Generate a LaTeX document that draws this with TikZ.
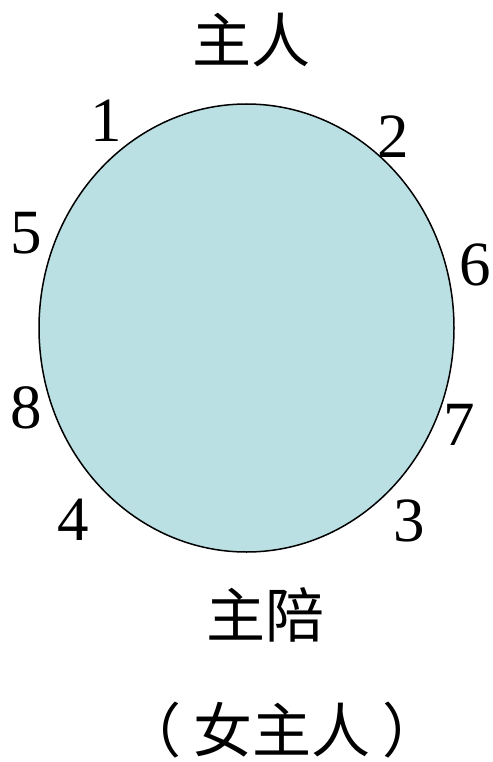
\documentclass[tikz,border=0pt]{standalone}
\usepackage{fontspec}
\newfontfamily\numfont{Liberation Serif}
\newfontfamily\cjk{Noto Sans CJK SC}
\usetikzlibrary{shapes.geometric}
\definecolor{tableblue}{RGB}{187,224,227}
\begin{document}
\begin{tikzpicture}[x=1pt, y=-1pt,
    seatnum/.style={inner sep=0pt, font=\numfont\fontsize{63}{63}\selectfont},
    seatname/.style={inner sep=0pt, font=\cjk\fontsize{59}{59}\selectfont}]
    \useasboundingbox (0,0) rectangle (492,762);
    %   The round table
    \node[draw=black, ellipse, fill=tableblue, line width=1.5pt, inner sep=0pt, minimum width=415pt, minimum height=448pt] (table) at (246.5,328) {};
    %   Seat numbers around the table
    \node[seatnum] (seat1) at (106,121) {1};
    \node[seatnum] (seat2) at (393,137) {2};
    \node[seatnum] (seat5) at (26,233) {5};
    \node[seatnum] (seat6) at (475,265) {6};
    \node[seatnum] (seat8) at (26,408) {8};
    \node[seatnum] (seat7) at (459,425) {7};
    \node[seatnum] (seat4) at (73,520) {4};
    \node[seatnum] (seat3) at (409,521) {3};
    %   Host and co-host
    \node[seatname] (host) at (251,40) {主人};
    \node[seatname] (cohost) at (265,615) {主陪};
    \node[seatname] (hostess) at (282,730) {（\kern12pt 女主人\kern12pt ）};
\end{tikzpicture}
\end{document}
